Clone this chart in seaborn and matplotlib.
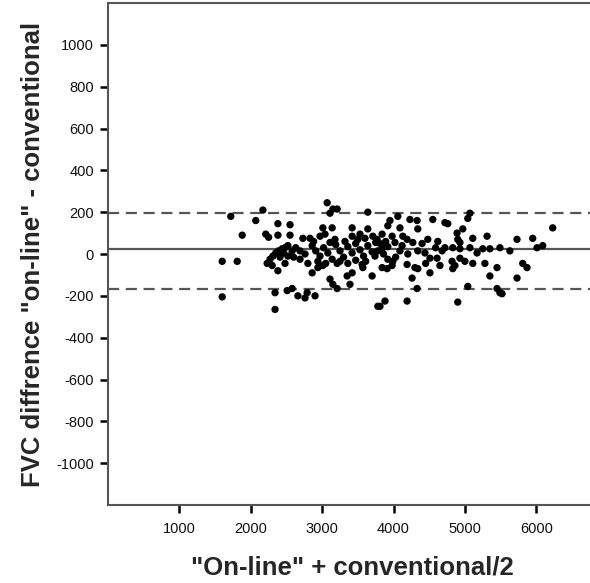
import matplotlib
matplotlib.use("Agg")
import matplotlib.pyplot as plt
import seaborn as sns
import pandas as pd

# Bland-Altman data: mean of methods (x) and difference (y)
mean_fvc = [
    1720, 1880, 1600, 1810, 1600, 2170, 2070, 2380, 2550, 2210,
    2250, 2380, 2550, 2730, 2830, 2380, 2860, 2340, 2580, 2510,
    2660, 2760, 2790, 2340, 2230, 2270, 2310, 2350, 2390, 2440,
    2480, 2520, 2460, 2410, 2520, 2580, 2630, 2690, 2600, 2300,
    2690, 2760, 2800, 3070, 3150, 3210, 3110, 3640, 3010, 3140,
    3420, 3640, 3040, 3180, 3420, 3530, 3600, 3710, 2860, 2910,
    2970, 3020, 3080, 3140, 3190, 3250, 3300, 3360, 3420, 3470,
    3530, 3580, 3640, 3700, 3750, 2940, 3250, 3470, 3110, 3010,
    2940, 3210, 3420, 3350, 3560, 3570, 3700, 3110, 3150, 3210,
    3390, 2900, 3780, 3950, 3920, 4060, 4090, 4230, 4330, 4550,
    4340, 3840, 4130, 4190, 4480, 4620, 3770, 3810, 3850, 3890,
    3780, 3860, 3920, 3740, 4120, 4200, 4340, 4440, 4510, 4610,
    3920, 3990, 3840, 3910, 3980, 4190, 4300, 4340, 4510, 4260,
    4330, 3810, 3880, 4190, 4090, 4030, 5070, 5040, 4720, 4760,
    4970, 4890, 4900, 4930, 5110, 5310, 4720, 4830, 4930, 5070,
    5250, 5350, 5490, 4680, 4820, 4860, 4830, 4930, 5000, 5110,
    5280, 5450, 5350, 5450, 5040, 5490, 4900, 5520, 6230, 5730,
    5950, 6010, 6090, 5810, 5870, 5730, 3320, 3500, 2880, 3050,
    3360, 3610, 3980, 4020, 4270, 4400, 4590, 4450, 4650, 5170,
    5630, 2970, 2480,
]
diff_fvc = [
    180, 90, -35, -35, -205, 210, 160, 145, 140, 95,
    80, 90, 90, 75, 75, -80, -90, -185, -165, -175,
    -200, -210, -185, -265, -45, -25, -10, 5, 15, 25,
    30, 40, 5, -15, -10, 15, 30, 15, -15, -55,
    -25, 0, -45, 245, 215, 215, 195, 200, 125, 125,
    125, 120, 95, 70, 85, 95, 75, 85, 40, 15,
    -10, 30, 5, -25, 45, 15, -15, 35, 5, 50,
    20, -10, 40, 10, 55, -35, -35, -30, 55, -55,
    -65, -45, -90, -105, -50, -65, -105, -120, -145, -165,
    -145, -200, -250, 160, 135, 180, 125, 165, 160, 165,
    120, 95, 85, 70, 70, 60, 70, 50, 30, 60,
    15, 0, 35, -10, 40, 0, 15, 5, -20, -20,
    -25, -35, -65, -70, -55, -50, -65, -70, -90, -115,
    -165, -250, -225, -225, 15, -15, 195, 170, 150, 145,
    120, 100, 70, 55, 75, 85, 30, 30, 25, 30,
    25, 25, 30, 15, -35, -55, -70, -20, -35, -45,
    -45, -65, -105, -165, -155, -185, -230, -190, 125, 70,
    75, 30, 40, -45, -65, -115, 60, 70, 60, -45,
    -45, -35, 85, 55, 55, 50, 30, -45, -55, 5,
    15, 85, -45,
]

mean_diff = 24
upper_loa = 196
lower_loa = -167

x_ticks = [1000, 2000, 3000, 4000, 5000, 6000]
y_ticks = [-1000, -800, -600, -400, -200, 0, 200, 400, 600, 800, 1000]

x_label = '"On-line" + conventional/2'
y_label = 'FVC diffrence "on-line" - conventional'

df = pd.DataFrame({"x": mean_fvc, "y": diff_fvc})

sns.set_style("white")
plt.rcParams["font.family"] = ["Liberation Sans", "DejaVu Sans"]

fig = plt.figure(figsize=(5.90, 5.83), dpi=100)
ax = fig.add_axes([108 / 590, 1 - 505 / 583, 1 - 108 / 590 + 0.01, (505 - 3) / 583])

sns.scatterplot(data=df, x="x", y="y", ax=ax, color="black", s=28,
                edgecolor="none", linewidth=0, legend=False, zorder=3)

line_col = "#555555"
ax.axhline(mean_diff, color=line_col, lw=1.6, zorder=2)
ax.axhline(upper_loa, color=line_col, lw=1.6, ls=(0, (5, 3)), zorder=2)
ax.axhline(lower_loa, color=line_col, lw=1.6, ls=(0, (5, 3)), zorder=2)

ax.set_xlim(0, 6835)
ax.set_ylim(-1200, 1200)
ax.set_xticks(x_ticks)
ax.set_yticks(y_ticks)
ax.set_xticklabels([str(v) for v in x_ticks])
ax.set_yticklabels([str(v) for v in y_ticks])

for side in ["left", "bottom", "top"]:
    ax.spines[side].set_visible(True)
    ax.spines[side].set_color("#555555")
    ax.spines[side].set_linewidth(1.5)
ax.spines["right"].set_visible(False)

ax.tick_params(axis="both", which="major", direction="out", length=6,
               width=1.8, color="black", labelsize=10.5, labelcolor="#111111")
ax.tick_params(axis="y", pad=4, left=True)
ax.tick_params(axis="x", pad=6, bottom=True)

ax.set_xlabel(x_label, fontsize=18.5, fontweight="bold", labelpad=14)
ax.set_ylabel(y_label, fontsize=18.5, fontweight="bold", labelpad=8)

fig.savefig("out.png", dpi=100)
